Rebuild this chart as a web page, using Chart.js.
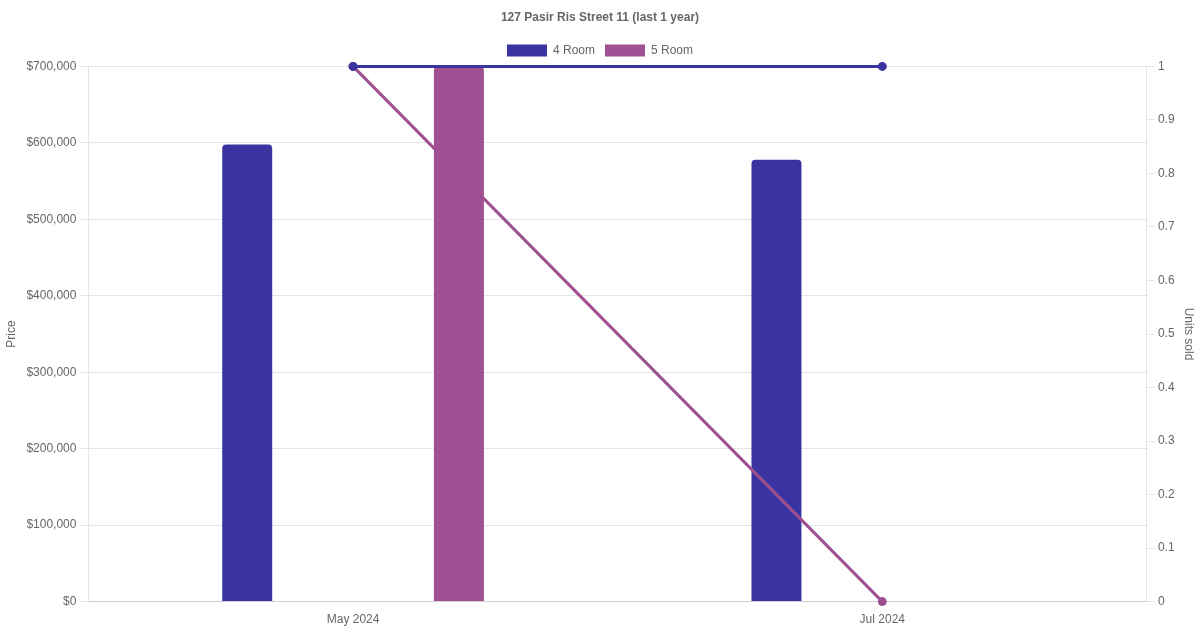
<!DOCTYPE html>
<html>
<head>
<meta charset="utf-8">
<script src="https://cdn.jsdelivr.net/npm/chart.js@4"></script>
<style>
  html, body { margin: 0; padding: 0; background: #fff; }
  #wrap { width: 1200px; height: 630px; }
</style>
</head>
<body>
<div id="wrap"><canvas id="chart"></canvas></div>
<script>
const labels = ['May 2024', 'Jul 2024']
const price4Room = [598000, 578000]
const price5Room = [700000, null]
const units4Room = [1, 1]
const units5Room = [1, 0]

const blue = '#3934a0'
const purple = '#9e5092'

const ctx = document.getElementById('chart').getContext('2d')
new Chart(ctx, {
  data: {
    labels: labels,
    datasets: [
      {
        type: 'bar',
        label: '4 Room',
        data: price4Room,
        backgroundColor: blue,
        borderRadius: 4,
        maxBarThickness: 50,
        order: 1,
        yAxisID: 'y'
      },
      {
        type: 'bar',
        label: '5 Room',
        data: price5Room,
        backgroundColor: purple,
        borderRadius: 4,
        maxBarThickness: 50,
        order: 1,
        yAxisID: 'y'
      },
      {
        type: 'line',
        label: '4 Room units',
        data: units4Room,
        borderColor: blue,
        backgroundColor: blue,
        borderWidth: 3,
        pointRadius: 3,
        fill: false,
        clip: false,
        order: 0,
        yAxisID: 'y1'
      },
      {
        type: 'line',
        label: '5 Room units',
        data: units5Room,
        borderColor: purple,
        backgroundColor: purple,
        borderWidth: 3,
        pointRadius: 3,
        fill: false,
        clip: false,
        order: 0,
        yAxisID: 'y1'
      }
    ]
  },
  options: {
    responsive: true,
    maintainAspectRatio: false,
    animation: false,
    plugins: {
      title: {
        display: true,
        text: '127 Pasir Ris Street 11 (last 1 year)'
      },
      legend: {
        labels: {
          filter: item => item.datasetIndex < 2
        }
      }
    },
    scales: {
      x: {
        grid: { display: false }
      },
      y: {
        position: 'left',
        beginAtZero: true,
        title: { display: true, text: 'Price' },
        ticks: {
          padding: 4,
          callback: value => '$' + value.toLocaleString('en-US')
        }
      },
      y1: {
        position: 'right',
        beginAtZero: true,
        max: 1,
        title: { display: true, text: 'Units sold' },
        grid: { drawOnChartArea: false },
        ticks: {
          callback: value => String(Math.round(value * 10) / 10)
        }
      }
    }
  }
})
</script>
</body>
</html>
